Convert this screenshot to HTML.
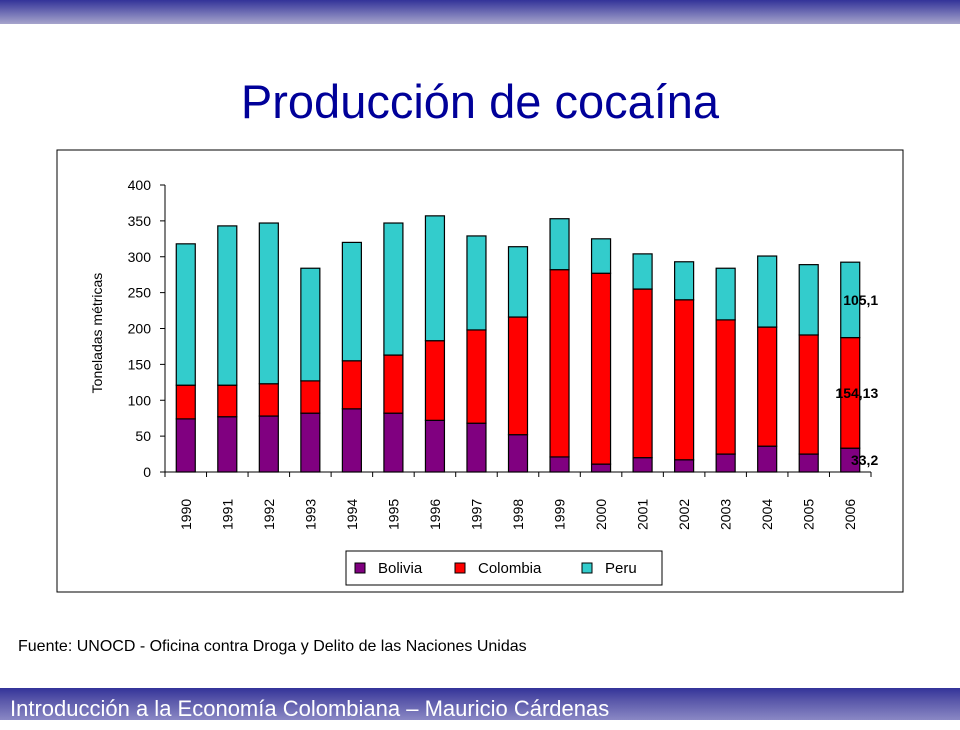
<!DOCTYPE html>
<html><head><meta charset="utf-8"><style>
body{margin:0;width:960px;height:720px;position:relative;background:#fff;font-family:"Liberation Sans",sans-serif;overflow:hidden}
#top{position:absolute;left:0;top:0;width:960px;height:24px;background:linear-gradient(#333399,#a6a4cc)}
#bot{position:absolute;left:0;top:688px;width:960px;height:32px;background:linear-gradient(#333399,#5a58aa 40%,#8a88c4);color:#fff;font-size:22px;line-height:42px;padding-left:10px;box-sizing:border-box}
#title{position:absolute;left:0;width:960px;top:74px;text-align:center;font-size:47px;color:#000099}
#src{position:absolute;left:18px;top:638px;font-size:16px;color:#000}
</style></head><body>
<div id="top"></div>
<div id="title">Producción de cocaína</div>
<svg width="960" height="720" style="position:absolute;left:0;top:0" id="chart">
<rect x="57" y="150" width="846" height="442" fill="#fff" stroke="#000" stroke-width="1"/>
<g id="g"></g>
</svg>
<div id="src">Fuente: UNOCD - Oficina contra Droga y Delito de las Naciones Unidas</div>
<div id="bot">Introducción a la Economía Colombiana – Mauricio Cárdenas</div>
<script>
const years=["1990","1991","1992","1993","1994","1995","1996","1997","1998","1999","2000","2001","2002","2003","2004","2005","2006"];
const bolivia=[74,77,78,82,88,82,72,68,52,21,11,20,17,25,36,25,33.2];
const colombia=[47,44,45,45,67,81,111,130,164,261,266,235,223,187,166,166,154.13];
const peru=[197,222,224,157,165,184,174,131,98,71,48,49,53,72,99,98,105.1];
const yTicks=[0,50,100,150,200,250,300,350,400];
const ns="http://www.w3.org/2000/svg",g=document.getElementById('g');
const x0=165,x1=871,y0=472,y1=185,ymax=400;
const bw=(x1-x0)/years.length;
const Y=v=>y0-(v/ymax)*(y0-y1);
const X=i=>x0+bw*(i+0.5);
function mk(t,a){const e=document.createElementNS(ns,t);for(const k in a)e.setAttribute(k,a[k]);g.appendChild(e);return e;}
let ax=mk('line',{x1:x0,y1:y1,x2:x0,y2:y0,stroke:'#000'});


let bx=mk('line',{x1:x0,y1:y0,x2:x1,y2:y0,stroke:'#000'});


yTicks.forEach(v=>{
 mk('line',{x1:x0-5,x2:x0,y1:Y(v),y2:Y(v),stroke:'#000'});
 const t=mk('text',{x:x0-14,y:Y(v)+5,'text-anchor':'end','font-size':14});
 t.textContent=v;
 
 
});
for(let i=0;i<=years.length;i++)mk('line',{x1:x0+bw*i,x2:x0+bw*i,y1:y0,y2:y0+5,stroke:'#000'});
const series=[[bolivia,'#800080','bolivia'],[colombia,'#ff0000','colombia'],[peru,'#33cccc','peru']];
years.forEach((yr,i)=>{
 let base=0;
 series.forEach(([arr,c,n])=>{
  const r=mk('rect',{x:X(i)-9.5,y:Y(base+arr[i]),width:19,height:Y(base)-Y(base+arr[i]),fill:c,stroke:'#000','stroke-width':1.2});
  
  
  base+=arr[i];
 });
 const t=mk('text',{x:0,y:0,'font-size':14,transform:`translate(${X(i)+5},${y0+58}) rotate(-90)`});
 t.textContent=yr;
 
 
});
const n=years.length-1;
[[bolivia[n]/2,bolivia[n]],[bolivia[n]+colombia[n]/2,colombia[n]],[bolivia[n]+colombia[n]+peru[n]/2,peru[n]]].forEach(([p,v])=>{
 const t=mk('text',{x:X(n)+28,y:Y(p)+5,'text-anchor':'end','font-size':14,'font-weight':'bold'});
 t.textContent=String(v).replace('.',',');
 
 
});
const yt=mk('text',{x:0,y:0,'font-size':14,'text-anchor':'middle',transform:`translate(102,333) rotate(-90)`});
yt.textContent='Toneladas métricas';


const lg=mk('rect',{x:346,y:551,width:316,height:34,fill:'#fff',stroke:'#000'});


const lx=[355,455,582],ln=['Bolivia','Colombia','Peru'];
series.forEach(([a,c,nm],k)=>{
 const s=mk('rect',{x:lx[k],y:563,width:10,height:10,fill:c,stroke:'#000'});
 
 
 const t=mk('text',{x:lx[k]+23,y:573,'font-size':15});
 t.textContent=ln[k];
 
 
});
</script>
</body></html>
